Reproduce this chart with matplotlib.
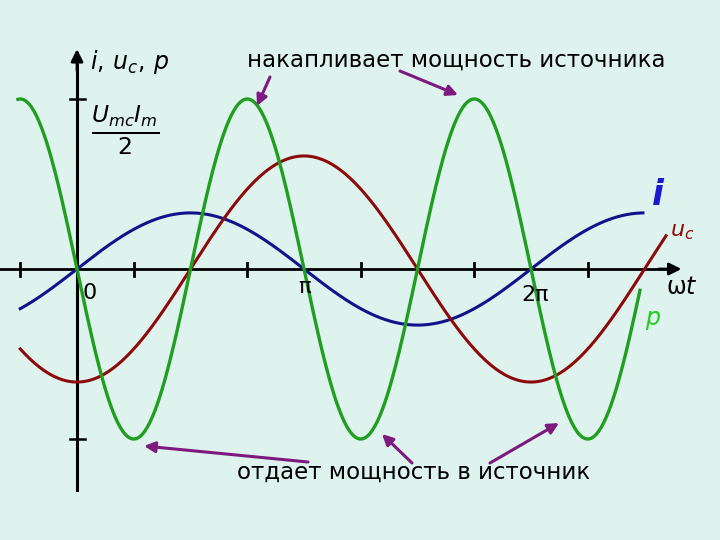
"""Instantaneous current, capacitor voltage and power on a capacitor."""
import matplotlib.pyplot as plt
import numpy as np

# amplitudes (p amplitude = Umc*Im/2 = 1)
p_amp = 1.0
uc_amp = 0.665
i_amp = 0.33

# visible ranges of each curve, in units of pi
p_range = (-0.26, 2.48)
uc_range = (-0.25, 2.595)
i_range = (-0.25, 2.493)

x_ticks = [-0.25, 0.25, 0.75, 1.25, 1.75, 2.25]
y_ticks = [-1.0, 1.0]

bg = "#def3ee"
green = "#1f9e1f"
red = "#8c0a0a"
blue = "#12128a"
purple = "#7d1a80"


def px(x, y):
    """picture pixel -> data coords (x in pi units)"""
    return (x - 77) / 227, (269 - y) / 170


plt.rcParams["mathtext.fontset"] = "dejavusans"
fig = plt.figure(figsize=(7.2, 5.4), dpi=100, facecolor=bg)
ax = fig.add_axes([0, 0, 1, 1])
ax.set_facecolor(bg)
ax.set_xlim(-77 / 227, 643 / 227)
ax.set_ylim(-271 / 170, 269 / 170)
ax.axis("off")

# axes with arrows
ax.plot([-77 / 227, 2.6], [0, 0], color="black", lw=2)
ax.annotate("", xy=(2.675, 0), xytext=(2.55, 0),
            arrowprops=dict(arrowstyle="-|>", color="black", lw=2, mutation_scale=18))
ax.plot([0, 0], [-1.30, 1.2], color="black", lw=2.2)
ax.annotate("", xy=(0, 1.31), xytext=(0, 1.15),
            arrowprops=dict(arrowstyle="-|>", color="black", lw=2, mutation_scale=18))
for t in x_ticks:
    ax.plot([t, t], [-0.04, 0.035], color="black", lw=2)
for t in y_ticks:
    ax.plot([-0.03, 0.035], [t, t], color="black", lw=1.8)

# curves
xs = np.linspace(*i_range, 400)
ax.plot(xs, i_amp * np.sin(np.pi * xs), color=blue, lw=2.2)
xs = np.linspace(*uc_range, 400)
ax.plot(xs, -uc_amp * np.cos(np.pi * xs), color=red, lw=2.2)
xs = np.linspace(*p_range, 500)
ax.plot(xs, -p_amp * np.sin(2 * np.pi * xs), color=green, lw=2.4)

# labels
ax.text(*px(90, 62), r"$i,\,u_c,\,p$", fontsize=17, ha="left", va="center")
ax.text(*px(125, 130), r"$\frac{U_{mc}I_m}{2}$", fontsize=24, ha="center", va="center")
ax.text(*px(90, 293), "0", fontsize=16, ha="center", va="center")
ax.text(*px(305, 287), "π", fontsize=15, ha="center", va="center")
ax.text(*px(535, 295), "2π", fontsize=16, ha="center", va="center")
ax.text(*px(682, 287), "ω$t$", fontsize=17, ha="center", va="center")
ax.text(*px(658, 195), "i", fontsize=25, fontweight="bold", fontstyle="italic",
        color="#1a1ad4", ha="center", va="center")
ax.text(*px(682, 232), "$u_c$", fontsize=16, color=red, ha="center", va="center")
ax.text(*px(653, 320), "$p$", fontsize=17, color="#22cc22", ha="center", va="center")

ax.text(*px(456, 60), "накапливает мощность источника", fontsize=16.5,
        ha="center", va="center")
ax.text(*px(414, 472), "отдает мощность в источник", fontsize=16.5,
        ha="center", va="center")

arrows = [((270, 77), (257, 106)), ((400, 71), (458, 95)),
          ((308, 462), (144, 446)), ((412, 463), (382, 434)),
          ((490, 463), (559, 423))]
for (x0, y0), (x1, y1) in arrows:
    ax.annotate("", xy=px(x1, y1), xytext=px(x0, y0),
                arrowprops=dict(arrowstyle="-|>", color=purple, lw=2.2,
                                mutation_scale=16, shrinkA=0, shrinkB=0))

fig.savefig("out.png", dpi=100, facecolor=bg)
